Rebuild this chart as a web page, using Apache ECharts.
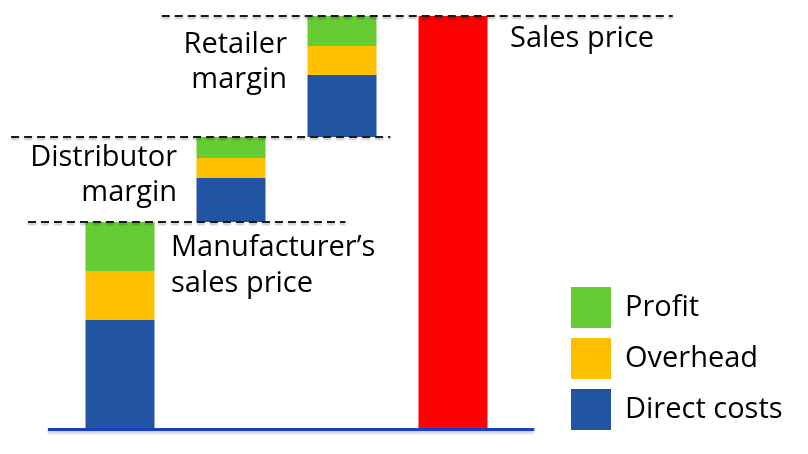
<!DOCTYPE html>
<html>
<head>
<meta charset="utf-8">
<script src="https://cdn.jsdelivr.net/npm/echarts@6/dist/echarts.min.js"></script>
<style>
html,body{margin:0;padding:0;background:#fff;}
#chart{width:808px;height:454px;}
</style>
</head>
<body>
<div id="chart"></div>
<script>
// ---- data ----
const categories = ["Manufacturer\u2019s sales price", "Distributor margin", "Retailer margin", "Sales price"];
const labelTexts = ["Manufacturer\u2019s\nsales price", "Distributor\nmargin", "Retailer\nmargin", "Sales price"];
const directCosts = [54.5, 22, 31, '-'];
const overhead = [24.5, 10, 14.5, '-'];
const profit = [24.5, 10.5, 15, '-'];
const salesPrice = ['-', '-', '-', 206.5];
const legendNames = ["Profit", "Overhead", "Direct costs"];

// ---- derived (waterfall offsets) ----
const num = v => (v === '-' ? 0 : v);
const totals = categories.map((_, i) => num(directCosts[i]) + num(overhead[i]) + num(profit[i]));
const base = [];
let run = 0;
for (let i = 0; i < categories.length; i++) {
  base.push(salesPrice[i] !== '-' ? '-' : run);
  run += totals[i];
}
const levels = [totals[0], totals[0] + totals[1], salesPrice[3]];

const FONT = '"Open Sans"';
const dashStyle = {type: [8, 5], width: 2, color: '#1a1a1a', shadowColor: 'rgba(0,0,0,0.25)', shadowBlur: 2, shadowOffsetY: 2};
const BW = 69;

const chart = echarts.init(document.getElementById('chart'), null, {renderer: 'canvas'});
const option = {
  animation: false,
  backgroundColor: '#ffffff',
  textStyle: {fontFamily: FONT},
  grid: [
    {left: 64.5, right: 299.5, top: 16, bottom: 25},
    {left: 10, right: 135, top: 16, bottom: 25}
  ],
  xAxis: [
    {type: 'category', gridIndex: 0, data: categories, show: false},
    {type: 'value', gridIndex: 1, min: 0, max: 5.982, show: false}
  ],
  yAxis: [
    {type: 'value', gridIndex: 0, min: 0, max: 206.5, show: false},
    {type: 'value', gridIndex: 1, min: 0, max: 206.5, show: false}
  ],
  legend: {
    data: legendNames,
    orient: 'vertical', left: 566, top: 282,
    itemWidth: 40, itemHeight: 41, itemGap: 10,
    icon: 'rect',
    textStyle: {fontFamily: FONT, fontSize: 29, color: '#000', padding: [0, 0, 8, 9]}
  },
  series: [
    {name: 'base', type: 'bar', stack: 's', barWidth: BW, silent: true, itemStyle: {color: 'rgba(0,0,0,0)'}, data: base},
    {name: 'Direct costs', type: 'bar', stack: 's', barWidth: BW, itemStyle: {color: '#2155a3'}, data: directCosts},
    {name: 'Overhead', type: 'bar', stack: 's', barWidth: BW, itemStyle: {color: '#ffc000'}, data: overhead},
    {name: 'Profit', type: 'bar', stack: 's', barWidth: BW, itemStyle: {color: '#66cc33'}, data: profit},
    {name: 'Sales price', type: 'bar', stack: 's', barWidth: BW, itemStyle: {color: '#ff0000'}, data: salesPrice},
    {
      name: 'guides', type: 'line', xAxisIndex: 1, yAxisIndex: 1, data: [], z: 5, silent: true,
      markLine: {
        silent: true, symbol: 'none', label: {show: false}, z: 5,
        data: [
          [{coord: [0.342, 0], lineStyle: {type: 'solid', width: 3, color: '#1b3fc2', shadowColor: 'rgba(0,0,0,0.25)', shadowBlur: 3, shadowOffsetY: 2}},
           {coord: [4.73, 0]}],
          [{coord: [0.162, levels[0]], lineStyle: dashStyle}, {coord: [3.027, levels[0]]}],
          [{coord: [0.01, levels[1]], lineStyle: dashStyle}, {coord: [3.432, levels[1]]}],
          [{coord: [1.369, levels[2]], lineStyle: dashStyle}, {coord: [5.98, levels[2]]}]
        ]
      }
    }
  ],
  graphic: [
    {type: 'text', x: 287, y: 26.8, style: {text: labelTexts[2], font: '29px ' + FONT, fill: '#000', textAlign: 'right', textVerticalAlign: 'top', lineHeight: 35}},
    {type: 'text', x: 177, y: 140, style: {text: labelTexts[1], font: '29px ' + FONT, fill: '#000', textAlign: 'right', textVerticalAlign: 'top', lineHeight: 35}},
    {type: 'text', x: 171, y: 229, style: {text: labelTexts[0], font: '29px ' + FONT, fill: '#000', textAlign: 'left', textVerticalAlign: 'top', lineHeight: 36.6}},
    {type: 'text', x: 510, y: 20.8, style: {text: labelTexts[3], font: '29px ' + FONT, fill: '#000', textAlign: 'left', textVerticalAlign: 'top', lineHeight: 35}}
  ]
};
chart.setOption(option);
</script>
</body>
</html>
